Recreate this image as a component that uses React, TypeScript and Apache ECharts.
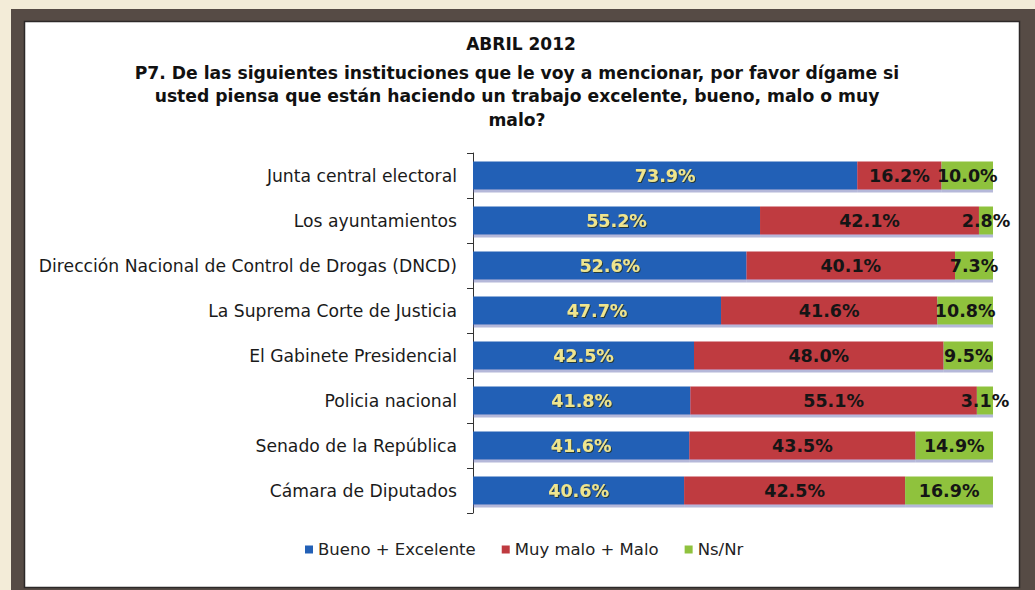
import React, { useEffect, useRef } from "react";
import * as echarts from "echarts";

const titleText = "ABRIL 2012";
const subtitleLines = [
  "P7. De las siguientes instituciones que le voy a mencionar, por favor dígame si",
  "usted piensa que están haciendo un trabajo excelente, bueno, malo o muy",
  "malo?",
];
const categories = [
  "Junta central electoral",
  "Los ayuntamientos",
  "Dirección Nacional de Control de Drogas (DNCD)",
  "La Suprema Corte de Justicia",
  "El Gabinete Presidencial",
  "Policia nacional",
  "Senado de la República",
  "Cámara de Diputados",
];
const seriesNames = ["Bueno + Excelente", "Muy malo + Malo", "Ns/Nr"];
const bueno = [73.9, 55.2, 52.6, 47.7, 42.5, 41.8, 41.6, 40.6];
const malo = [16.2, 42.1, 40.1, 41.6, 48.0, 55.1, 43.5, 42.5];
const nsnr = [10.0, 2.8, 7.3, 10.8, 9.5, 3.1, 14.9, 16.9];

const colors = ["#2360b6", "#bf3a40", "#8fc23e"];

export default function App() {
  const ref = useRef<HTMLDivElement>(null);
  useEffect(() => {
    document.body.style.margin = "0";
    const chart = echarts.init(ref.current!, null, { renderer: "svg" });
    const font = "DejaVu Sans";
    const barShadow = {
      shadowColor: "rgba(90,100,170,0.45)",
      shadowOffsetY: 3,
      shadowBlur: 1,
    };
    const mk = (name: string, data: number[], idx: number, label: any) => ({
      name,
      type: "bar",
      stack: "total",
      data,
      barWidth: 28,
      itemStyle: { color: colors[idx], ...barShadow },
      label: {
        show: true,
        position: "inside",
        formatter: (p: any) => p.value.toFixed(1) + "%",
        fontFamily: font,
        fontWeight: "bold",
        fontSize: 17.5,
        ...label,
      },
    });
    chart.setOption({
      animation: false,
      backgroundColor: "transparent",
      graphic: [
        { type: "rect", z: -10, shape: { x: 0, y: 0, width: 1035, height: 590 }, style: { fill: "#f3ecd8" } },
        { type: "rect", z: -9, shape: { x: 11, y: 9, width: 1024, height: 581 }, style: { fill: "#564b45" } },
        {
          type: "rect",
          z: -8,
          shape: { x: 24.5, y: 21.5, width: 995, height: 566 },
          style: { fill: "#ffffff", stroke: "#2c2828", lineWidth: 1.5 },
        },
      ],
      title: [
        {
          text: titleText,
          left: 516,
          top: 30,
          textAlign: "center",
          textStyle: { fontFamily: font, fontWeight: "bold", fontSize: 17, color: "#111" },
        },
        {
          text: subtitleLines.join("\n"),
          left: 512,
          top: 56,
          textAlign: "center",
          textStyle: {
            fontFamily: font,
            fontWeight: "bold",
            fontSize: 17.2,
            lineHeight: 23.5,
            color: "#111",
          },
        },
      ],
      legend: {
        bottom: 27,
        left: 300,
        itemWidth: 8,
        itemHeight: 8,
        itemGap: 26,
        icon: "rect",
        textStyle: { fontFamily: font, fontSize: 16.5, color: "#222" },
        data: seriesNames,
      },
      grid: { left: 473, top: 153, width: 520, height: 360 },
      xAxis: {
        type: "value",
        min: 0,
        max: 100,
        show: false,
      },
      yAxis: {
        type: "category",
        inverse: true,
        data: categories,
        axisLine: { lineStyle: { color: "#333", width: 1 } },
        axisTick: { show: true, length: 6, lineStyle: { color: "#333" } },
        axisLabel: { fontFamily: font, fontSize: 17.2, color: "#1a1a1a", margin: 16 },
      },
      series: [
        mk(seriesNames[0], bueno, 0, {
          color: "#efe58e",
          textShadowColor: "rgba(40,50,20,0.8)",
          textShadowBlur: 1,
          textShadowOffsetX: 1,
          textShadowOffsetY: 1,
        }),
        mk(seriesNames[1], malo, 1, { color: "#151515" }),
        mk(seriesNames[2], nsnr, 2, { color: "#151515" }),
      ],
    });
    return () => chart.dispose();
  }, []);
  return <div ref={ref} style={{ position: "absolute", left: 0, top: 0, width: 1035, height: 590 }} />;
}
